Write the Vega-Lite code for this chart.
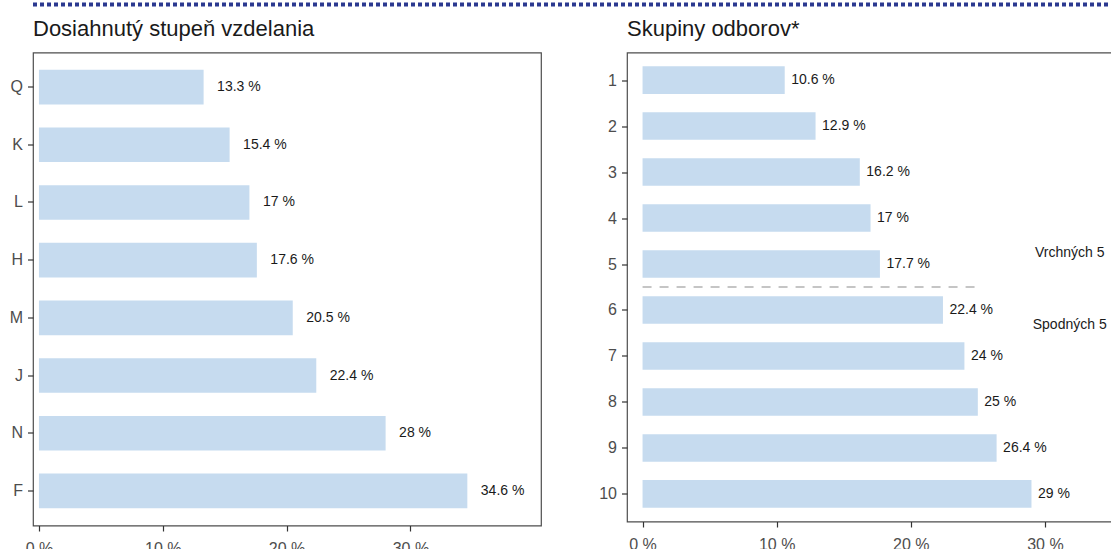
{
  "$schema": "https://vega.github.io/schema/vega-lite/v6.json",
  "padding": {"left": 0, "top": 2, "right": 0, "bottom": 0},
  "background": "white",
  "spacing": 9.5,
  "datasets": {
    "edu": [
      {"cat": "Q", "pct": 13.3, "label": "13.3 %"},
      {"cat": "K", "pct": 15.4, "label": "15.4 %"},
      {"cat": "L", "pct": 17, "label": "17 %"},
      {"cat": "H", "pct": 17.6, "label": "17.6 %"},
      {"cat": "M", "pct": 20.5, "label": "20.5 %"},
      {"cat": "J", "pct": 22.4, "label": "22.4 %"},
      {"cat": "N", "pct": 28, "label": "28 %"},
      {"cat": "F", "pct": 34.6, "label": "34.6 %"}
    ],
    "fields": [
      {"rank": 1, "pct": 10.6, "label": "10.6 %"},
      {"rank": 2, "pct": 12.9, "label": "12.9 %"},
      {"rank": 3, "pct": 16.2, "label": "16.2 %"},
      {"rank": 4, "pct": 17, "label": "17 %"},
      {"rank": 5, "pct": 17.7, "label": "17.7 %"},
      {"rank": 6, "pct": 22.4, "label": "22.4 %"},
      {"rank": 7, "pct": 24, "label": "24 %"},
      {"rank": 8, "pct": 25, "label": "25 %"},
      {"rank": 9, "pct": 26.4, "label": "26.4 %"},
      {"rank": 10, "pct": 29, "label": "29 %"}
    ],
    "divider": [{"y": 5.5, "xa": 0, "xb": 24.8}],
    "notes": [
      {"y": 4.75, "x": 31.85, "text": "Vrchných 5"},
      {"y": 6.33, "x": 31.85, "text": "Spodných 5"}
    ]
  },
  "vconcat": [
    {
      "width": 1111,
      "height": 1,
      "data": {"values": []},
      "mark": {"type": "text", "text": ""},
      "encoding": {},
      "view": {"stroke": "#2b3990", "strokeWidth": 3, "strokeDash": [4, 3], "fill": null}
    },
    {
      "hconcat": [
        {
          "width": 508,
          "height": 473,
          "title": {"text": "Dosiahnutý stupeň vzdelania", "anchor": "start", "frame": "group", "fontSize": 22, "fontWeight": "normal", "color": "#1a1a1a", "baseline": "alphabetic", "offset": -5.5},
          "data": {"name": "edu"},
          "encoding": {
            "y": {
              "field": "cat", "type": "nominal", "title": null,
              "sort": ["Q", "K", "L", "H", "M", "J", "N", "F"],
              "scale": {"paddingInner": 0.4, "paddingOuter": 0.3},
              "axis": {"minExtent": 32, "maxExtent": 32, "labelPadding": 5}
            },
            "x": {
              "field": "pct", "type": "quantitative", "title": null,
              "scale": {"domain": [-0.48, 40.55], "nice": false, "zero": false},
              "axis": {"values": [0, 10, 20, 30], "labelExpr": "datum.value + ' %'", "labelPadding": 9}
            }
          },
          "layer": [
            {"mark": {"type": "bar", "color": "#c6dbef"}, "encoding": {"x2": {"datum": 0}}},
            {"mark": {"type": "text", "align": "left", "baseline": "middle", "dx": 13.5, "fontSize": 14, "color": "#1a1a1a"}, "encoding": {"text": {"field": "label"}}}
          ]
        },
        {
          "width": 508,
          "height": 469,
          "title": {"text": "Skupiny odborov*", "anchor": "start", "frame": "group", "fontSize": 22, "fontWeight": "normal", "color": "#1a1a1a", "baseline": "alphabetic", "offset": -5.5},
          "encoding": {
            "y": {
              "type": "quantitative", "title": null,
              "scale": {"domain": [0.4, 10.6], "reverse": true, "nice": false, "zero": false, "padding": 0},
              "axis": {"values": [1, 2, 3, 4, 5, 6, 7, 8, 9, 10], "format": "d", "minExtent": 28, "maxExtent": 28, "labelPadding": 5}
            },
            "x": {
              "type": "quantitative", "title": null,
              "scale": {"domain": [-1.16, 36.72], "nice": false, "zero": false},
              "axis": {"values": [0, 10, 20, 30], "labelExpr": "datum.value + ' %'", "labelPadding": 9}
            }
          },
          "layer": [
            {
              "data": {"name": "fields"},
              "mark": {"type": "bar", "orient": "horizontal", "size": 27.6, "color": "#c6dbef"},
              "encoding": {"y": {"field": "rank"}, "x": {"field": "pct"}, "x2": {"datum": 0}}
            },
            {
              "data": {"name": "fields"},
              "mark": {"type": "text", "align": "left", "baseline": "middle", "dx": 6.5, "fontSize": 14, "color": "#1a1a1a"},
              "encoding": {"y": {"field": "rank"}, "x": {"field": "pct"}, "text": {"field": "label"}}
            },
            {
              "data": {"name": "divider"},
              "mark": {"type": "rule", "color": "#b3b3b3", "strokeWidth": 1.5, "strokeDash": [9, 8]},
              "encoding": {"y": {"field": "y"}, "x": {"field": "xa"}, "x2": {"field": "xb"}}
            },
            {
              "data": {"name": "notes"},
              "mark": {"type": "text", "align": "center", "baseline": "middle", "fontSize": 14, "color": "#1a1a1a"},
              "encoding": {"y": {"field": "y"}, "x": {"field": "x"}, "text": {"field": "text"}}
            }
          ]
        }
      ],
      "spacing": 56
    }
  ],
  "config": {
    "font": "Liberation Sans",
    "view": {"stroke": "#4d4d4d", "strokeWidth": 1.2},
    "axis": {"grid": false, "domain": false, "tickColor": "#333333", "tickSize": 5.5, "tickWidth": 1.2, "labelColor": "#4d4d4d", "labelFontSize": 16}
  }
}
